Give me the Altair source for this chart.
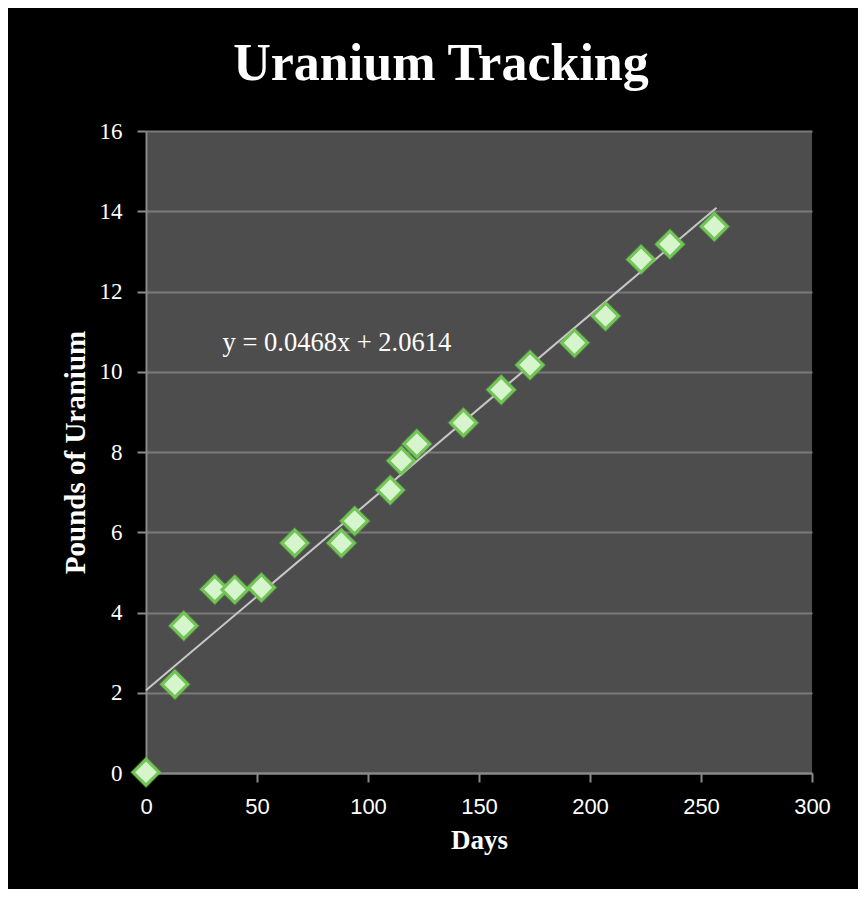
import altair as alt
import pandas as pd

days = [0, 13, 17, 31, 40, 52, 67, 88, 94, 110, 115, 122, 143, 160, 173, 193, 207, 223, 236, 256]
pounds = [0.02, 2.21, 3.67, 4.58, 4.57, 4.62, 5.73, 5.73, 6.28, 7.05, 7.78, 8.2, 8.73, 9.55, 10.17, 10.72, 11.39, 12.8, 13.18, 13.62]

slope = 0.0468
intercept = 2.0614
trend_x = [0, 257]
eq_label = ["y = 0.0468x + 2.0614"]
eq_pos_x = [86]
eq_pos_y = [10.72]

pts = pd.DataFrame({"Days": days, "Pounds": pounds})
trend = pd.DataFrame({"Days": trend_x, "Pounds": [intercept + slope * x for x in trend_x]})
eq = pd.DataFrame({"Days": eq_pos_x, "Pounds": eq_pos_y, "label": eq_label})

xs = alt.Scale(domain=[0, 300], nice=False, zero=True)
ys = alt.Scale(domain=[0, 16], nice=False)

xaxis = alt.Axis(
    title="Days", values=[0, 50, 100, 150, 200, 250, 300], grid=False,
    labelFont="Liberation Sans", labelFontSize=22, labelPadding=14, labelFlush=False,
    titlePadding=10, titleFontSize=27,
)
yaxis = alt.Axis(
    title="Pounds of Uranium", values=list(range(0, 17, 2)), grid=True,
    labelFont="Liberation Serif", labelFontSize=23, labelPadding=15,
    titlePadding=9, titleFontSize=29,
)

X = alt.X("Days:Q", scale=xs, axis=xaxis)
Y = alt.Y("Pounds:Q", scale=ys, axis=yaxis)

base = alt.Chart(pts)

glow = base.mark_point(shape="diamond", filled=True, color="#5fbf3f", opacity=0.35, size=1050).encode(x=X, y=Y)

line = alt.Chart(trend).mark_line(color="#c8c8c8", strokeWidth=2).encode(x=X, y=Y)

diam = base.mark_point(shape="diamond", filled=True, fill="#d6f5cc", stroke="#72c556",
                       strokeWidth=3, opacity=1, size=660).encode(x=X, y=Y)

text = alt.Chart(eq).mark_text(color="white", font="Liberation Serif", fontSize=26.5, align="center",
                               baseline="middle").encode(x=X, y=Y, text="label:N")

chart = alt.layer(glow, line, diam, text).properties(
    width=666,
    height=642,
    title=alt.TitleParams(
        "Uranium Tracking", color="white", font="Liberation Serif", fontSize=52,
        fontWeight="bold", anchor="middle", dx=-38, offset=29,
    ),
    padding={"left": 138, "top": 123, "right": 46, "bottom": 116},
    autosize=alt.AutoSizeParams(type="none"),
    background="black",
).configure_view(fill="#4d4d4d", stroke=None).configure_axis(
    gridColor="#7a7a7a", gridWidth=2,
    domainColor="#8a8a8a", domainWidth=2, tickColor="#8a8a8a", tickWidth=2, tickSize=9,
    labelColor="white", titleColor="white", titleFont="Liberation Serif",
    titleFontWeight="bold",
)

chart.save("out.html", embed_options={"renderer": "svg", "actions": False})
